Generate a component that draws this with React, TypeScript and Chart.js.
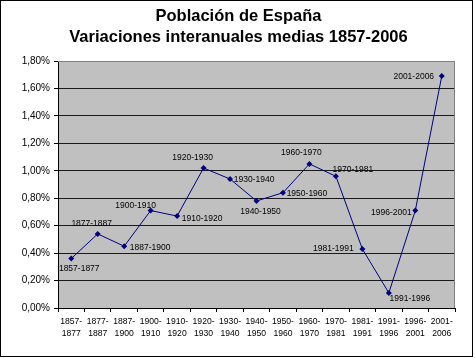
import React, { useEffect, useRef } from 'react';
import { Chart, registerables } from 'chart.js';

Chart.register(...registerables);

const titleLines = ['Población de España', 'Variaciones interanuales medias 1857-2006'];

const periods = [
  '1857-1877', '1877-1887', '1887-1900', '1900-1910', '1910-1920',
  '1920-1930', '1930-1940', '1940-1950', '1950-1960', '1960-1970',
  '1970-1981', '1981-1991', '1991-1996', '1996-2001', '2001-2006',
];

const values = [0.36, 0.54, 0.45, 0.71, 0.67, 1.02, 0.94, 0.78, 0.84, 1.05, 0.96, 0.43, 0.11, 0.71, 1.69];

const yMin = 0;
const yMax = 1.8;
const yStep = 0.2;

// label offsets (style): centre of each point label relative to its marker
const labelOffsets: [number, number][] = [
  [8, 10], [-6, -10], [26, 1], [-15, -5], [25, 3],
  [-11, -10], [24, 1], [4, 11], [24, 1], [-8, -11],
  [17, -7], [-29, 0], [21, 6], [-24, 2], [-28, 1],
];

const FONT = "'Liberation Sans', Arial, Helvetica, sans-serif";

export default function App() {
  const ref = useRef<HTMLCanvasElement | null>(null);

  useEffect(() => {
    document.body.style.margin = '0';
    const canvas = ref.current;
    if (!canvas) return;

    const bgPlugin = {
      id: 'bgPlugin',
      beforeDraw(chart: any) {
        const { ctx, chartArea } = chart;
        ctx.save();
        ctx.fillStyle = '#ffffff';
        ctx.fillRect(0, 0, chart.width, chart.height);
        ctx.fillStyle = '#c0c0c0';
        ctx.fillRect(chartArea.left, chartArea.top, chartArea.right - chartArea.left, chartArea.bottom - chartArea.top);
        ctx.restore();
      },
      beforeDatasetsDraw(chart: any) {
        const { ctx, chartArea } = chart;
        ctx.save();
        ctx.strokeStyle = '#808080';
        ctx.lineWidth = 1;
        ctx.beginPath();
        ctx.moveTo(chartArea.left, Math.round(chartArea.top) + 0.5);
        ctx.lineTo(Math.round(chartArea.right) - 0.5, Math.round(chartArea.top) + 0.5);
        ctx.lineTo(Math.round(chartArea.right) - 0.5, chartArea.bottom);
        ctx.stroke();
        ctx.restore();
      },
      afterDatasetsDraw(chart: any) {
        const { ctx } = chart;
        const meta = chart.getDatasetMeta(0);
        ctx.save();
        ctx.fillStyle = '#000000';
        ctx.font = `8.5px ${FONT}`;
        ctx.textAlign = 'center';
        ctx.textBaseline = 'middle';
        meta.data.forEach((el: any, i: number) => {
          const off = labelOffsets[i] || [0, -10];
          ctx.fillText(periods[i], el.x + off[0], el.y + off[1]);
        });
        ctx.restore();
      },
      afterDraw(chart: any) {
        const { ctx } = chart;
        ctx.save();
        // title
        ctx.fillStyle = '#000000';
        ctx.font = `bold 16.5px ${FONT}`;
        ctx.textAlign = 'center';
        ctx.textBaseline = 'alphabetic';
        ctx.fillText(titleLines[0], 238.5, 21);
        ctx.fillText(titleLines[1], 238.5, 42);
        // outer frame
        ctx.strokeStyle = '#000000';
        ctx.lineWidth = 1;
        ctx.strokeRect(0.5, 0.5, 472, 356);
        ctx.restore();
      },
    };

    const chart = new Chart(canvas, {
      type: 'line',
      data: {
        labels: periods.map((p) => {
          const [a, b] = p.split('-');
          return [a + '-', b];
        }),
        datasets: [
          {
            data: values,
            borderColor: '#000080',
            borderWidth: 1,
            backgroundColor: '#000080',
            pointStyle: 'rectRot',
            pointRadius: 3,
            pointBackgroundColor: '#000080',
            pointBorderColor: '#000080',
            pointBorderWidth: 0,
            tension: 0,
            fill: false,
          },
        ],
      },
      options: {
        responsive: false,
        animation: false,
        devicePixelRatio: 1,
        layout: { padding: { top: 61, right: 20, left: 0, bottom: 0 } },
        plugins: {
          legend: { display: false },
          title: { display: false },
          tooltip: { enabled: false },
        },
        scales: {
          x: {
            type: 'category',
            offset: true,
            afterFit: (scale: any) => {
              scale.height = 50;
            },
            grid: {
              offset: true,
              drawOnChartArea: false,
              drawTicks: true,
              tickLength: 4,
              color: '#000000',
            },
            border: { display: true, color: '#000000', width: 1 },
            ticks: {
              color: '#000000',
              font: { family: FONT, size: 8.6, lineHeight: 1.35 },
              padding: 4,
              maxRotation: 0,
              autoSkip: false,
            },
          },
          y: {
            min: yMin,
            max: yMax,
            afterFit: (scale: any) => {
              scale.width = 58;
            },
            grid: {
              color: (c: any) => (c.tick && Math.abs(c.tick.value - yMax) < 1e-6 ? '#808080' : '#1a1a1a'),
              tickColor: '#000000',
              lineWidth: 1,
              drawTicks: true,
              tickLength: 4,
            },
            border: { display: true, color: '#000000', width: 1 },
            ticks: {
              stepSize: yStep,
              color: '#000000',
              font: { family: FONT, size: 10 },
              padding: 4,
              callback: (v: any) => Number(v).toFixed(2).replace('.', ',') + '%',
            },
          },
        },
      },
      plugins: [bgPlugin],
    });

    return () => {
      chart.destroy();
    };
  }, []);

  return (
    <div style={{ width: 475, height: 358 }}>
      <canvas ref={ref} width={475} height={358} style={{ display: 'block' }} />
    </div>
  );
}
